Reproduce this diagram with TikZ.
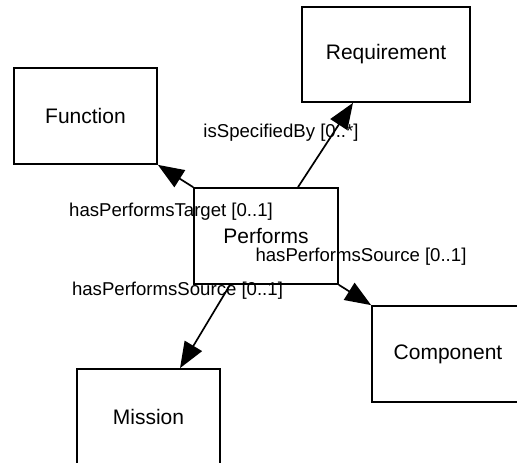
\documentclass[tikz,border=0pt]{standalone}
\usepackage{fontspec}
\setmainfont{Liberation Sans}
\usetikzlibrary{arrows.meta,positioning}

\begin{document}
\begin{tikzpicture}[
  x=1pt, y=-1pt,
  classbox/.style={draw, line width=1.7pt, minimum width=143pt, minimum height=96pt,
    inner sep=0pt, font=\fontsize{21}{24}\selectfont},
  assoc/.style={line width=1.7pt, -{Triangle[length=26pt, width=20pt]}},
  rolelbl/.style={inner sep=0pt, font=\fontsize{18.6}{22}\selectfont}
]
\useasboundingbox (0,0) rectangle (517,463);
% classes
\node[classbox] (func) at (85.5,116) {Function};
\node[classbox, minimum width=168pt, minimum height=95pt] (req) at (386,54.5) {Requirement};
\node[classbox, minimum width=144pt] (perf) at (266,236) {Performs};
\node[classbox, minimum width=152pt] (comp) at (448,354) {Component};
\node[classbox] (mis) at (148.5,417) {Mission};
% associations
\draw[assoc] (perf.north west) -- (func.south east);
\draw[assoc] ([xshift=32pt]perf.north) -- ([xshift=-33pt]req.south);
\draw[assoc] (perf.south east) -- (comp.north west);
\draw[assoc] ([xshift=-36pt]perf.south) -- ([xshift=31.5pt]mis.north);
% role names
\node[rolelbl] (lspec) at (281,133) {isSpecifiedBy [0..*]};
\node[rolelbl] (ltarget) at (171,212) {hasPerformsTarget [0..1]};
\node[rolelbl] (lsrcR) at (361,257) {hasPerformsSource [0..1]};
\node[rolelbl] (lsrcL) at (177.5,291) {hasPerformsSource [0..1]};
\end{tikzpicture}
\end{document}
